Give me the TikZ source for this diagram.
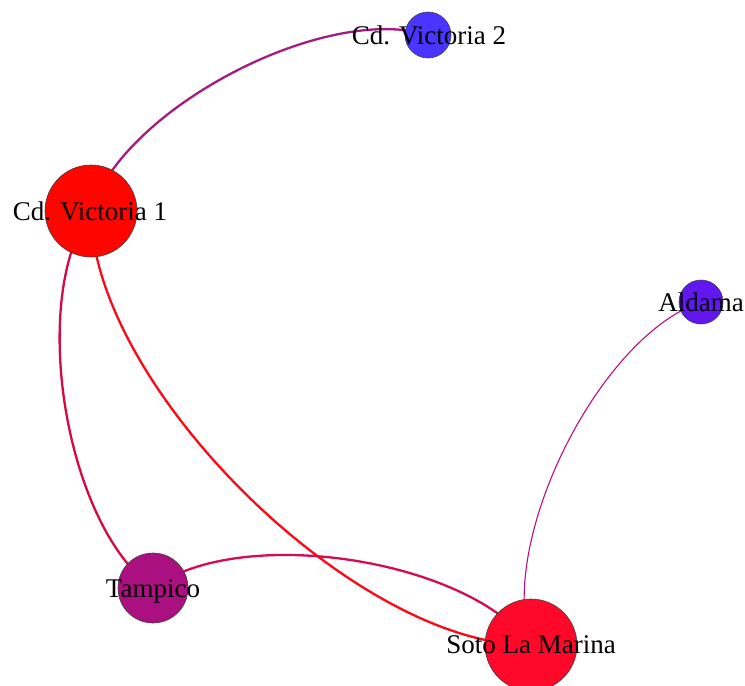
\documentclass[tikz,border=0pt]{standalone}
\usepackage{fontspec}
\setmainfont{Liberation Serif}
\usetikzlibrary{backgrounds}

\definecolor{cvone}{RGB}{255,5,0}
\definecolor{cvtwo}{RGB}{74,52,255}
\definecolor{aldama}{RGB}{98,22,240}
\definecolor{tampico}{RGB}{170,16,128}
\definecolor{soto}{RGB}{255,8,42}

\tikzset{
  city/.style={circle, draw=black!75, line width=0.6pt, inner sep=0pt, minimum size=#1},
  citylabel/.style={anchor=base, inner sep=0pt, font=\fontsize{27}{27}\selectfont},
  link/.style={line width=2.3pt, line cap=round},
  thinlink/.style={line width=1.1pt, line cap=round},
  arc/.style={bend left=45, looseness=0.7225},
  arcr/.style={bend right=45, looseness=0.7225}
}

\begin{document}
\begin{tikzpicture}[x=1pt, y=-1pt]
  \useasboundingbox (0,0) rectangle (745,686);

  % places, sized by degree
  \node[city=46pt, fill=cvtwo]   (cv2) at (428,35)  {};
  \node[city=92pt, fill=cvone]   (cv1) at (91,211)  {};
  \node[city=44pt, fill=aldama]  (ald) at (701,302) {};
  \node[city=70pt, fill=tampico] (tam) at (153,588) {};
  \node[city=92pt, fill=soto]    (sot) at (531,645) {};

  % curved links, each coloured as the blend of its two ends
  \begin{scope}[on background layer]
    \draw[link, color=cvone!50!cvtwo]     (cv1.center) to[arc]  (cv2.center);
    \draw[link, color=cvone!50!tampico]   (cv1.center) to[arcr] (tam.center);
    \draw[link, color=cvone!50!soto]      (cv1.center) to[arcr] (sot.center);
    \draw[link, color=tampico!50!soto]    (tam.center) to[arc]  (sot.center);
    \draw[thinlink, color=aldama!45!soto] (ald.center) to[arcr] (sot.center);
  \end{scope}

  % labels on top
  \node[citylabel] (lcv2) at (429,44)  {Cd. Victoria 2};
  \node[citylabel] (lcv1) at (90,220)  {Cd. Victoria 1};
  \node[citylabel] (lald) at (701,311) {Aldama};
  \node[citylabel] (ltam) at (153,597) {Tampico};
  \node[citylabel] (lsot) at (531,653) {Soto La Marina};
\end{tikzpicture}
\end{document}
